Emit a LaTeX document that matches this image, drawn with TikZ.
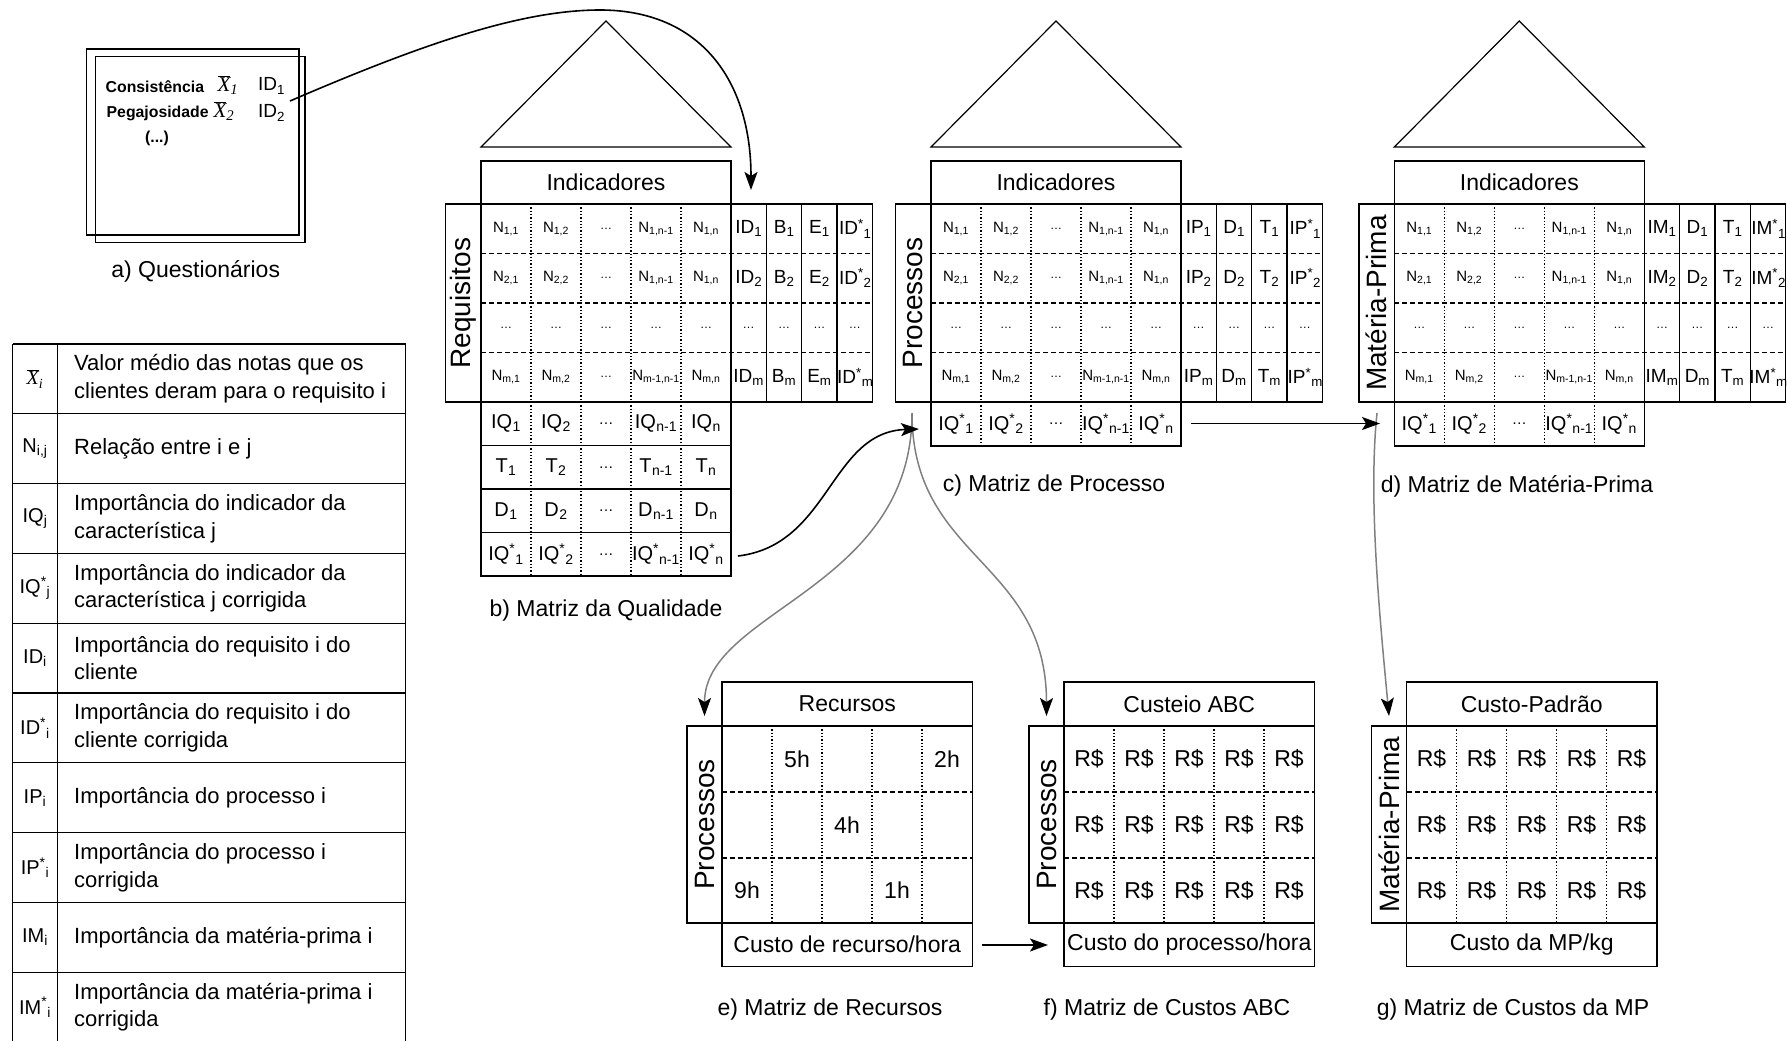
\documentclass[tikz,border=0pt]{standalone}
\usepackage{fontspec}
\setmainfont{Liberation Sans}
\newfontfamily\tms{Liberation Serif}
\usetikzlibrary{arrows.meta}
\definecolor{lgray}{RGB}{128,128,128}
\newcommand\lo[1]{\textsubscript{#1}}
\newcommand\hi[1]{\textsuperscript{#1}}
\newcommand\xb[1]{$\overline{\hbox{\tms\itshape X}}$\textsubscript{\tms\itshape #1}}

\tikzset{
 box/.style={line width=1.3pt},
 dotl/.style={line width=1.1pt, dash pattern=on 1.3pt off 2pt},
 dashl/.style={line width=1.3pt, dash pattern=on 5pt off 3pt},
 lbl/.style={font=\fontsize{23}{27}\selectfont, inner sep=0pt},
 side/.style={font=\fontsize{28}{32}\selectfont, rotate=90, inner sep=0pt},
 ncell/.style={font=\fontsize{15}{17}\selectfont, inner sep=0pt},
 dcell/.style={font=\fontsize{12}{14}\selectfont, inner sep=0pt},
 bcell/.style={font=\fontsize{20}{23}\selectfont, inner sep=0pt},
 rcell/.style={font=\fontsize{19}{22}\selectfont, inner sep=0pt},
 legsym/.style={font=\fontsize{20}{23}\selectfont, inner sep=0pt},
 legtxt/.style={font=\fontsize{22}{27.7}\selectfont, inner sep=0pt, anchor=west, align=left},
 qtxt/.style={font=\fontsize{15.8}{18}\selectfont\bfseries, inner sep=0pt},
 arrowtip/.style={-{Stealth[length=18pt,width=13pt,inset=4pt,color=black]}},
 conn/.style={line width=1.6pt, arrowtip},
 gconn/.style={line width=1.5pt, draw=lgray, arrowtip},
}

% QFD matrix: #1 prefix, #2 xshift, #3 side label, #4 #5 #6 right column letters, #7 bottom y
\newcommand\qfd[7]{%
\begin{scope}[xshift=#2pt]
 \draw[box] (0,161) rectangle (250,204);
 \node[lbl] (#1head) at (125,182.5) {Indicadores};
 \draw[box] (-35.3,204) rectangle (391.5,402);
 \node[side] (#1side) at (-17.6,303) {#3};
 \draw[box] (0,204) -- (0,#7) -- (250,#7) -- (250,204);
 \foreach \x in {285.4,320.8,356.1} \draw[box] (\x,204) -- (\x,402);
 \foreach \y in {253.5,303,352.5} \draw[dashl] (0,\y) -- (391.5,\y);
 \foreach \x in {50,100,150,200} \draw[dotl] (\x,204) -- (\x,#7);
 \foreach \r/\y/\a/\b/\d/\e in {1/228.7/{1,1}/{1,2}/{1,n-1}/{1,n}, 2/278.2/{2,1}/{2,2}/{1,n-1}/{1,n}, 4/377.2/{m,1}/{m,2}/{m-1,n-1}/{m,n}}{
   \node[ncell] (#1n\r a) at (25,\y) {N\lo{\a}};
   \node[ncell] (#1n\r b) at (75,\y) {N\lo{\b}};
   \node[dcell] (#1n\r c) at (125,\y) {\dots};
   \node[ncell] (#1n\r d) at (175,\y) {N\lo{\d}};
   \node[ncell] (#1n\r e) at (225,\y) {N\lo{\e}};
 }
 \foreach \c/\x in {a/25,b/75,c/125,d/175,e/225,f/267.7,g/303.1,h/338.4,i/373.8}
   \node[dcell] (#1n3\c) at (\x,327.7) {\dots};
 \foreach \r/\y/\k in {1/228.7/1, 2/278.2/2, 4/377.2/m}{
   \node[rcell] (#1r\r a) at (267.7,\y) {#4\lo{\k}};
   \node[rcell] (#1r\r b) at (303.1,\y) {#5\lo{\k}};
   \node[rcell] (#1r\r c) at (338.4,\y) {#6\lo{\k}};
   \node[rcell] (#1r\r d) at (374.3,\y) {#4\hi{*}\lo{\k}};
 }
\end{scope}}

% cost matrix: #1 prefix, #2 xshift, #3 header, #4 side, #5 footer
\newcommand\costm[5]{%
\begin{scope}[xshift=#2pt]
 \draw[box] (0,682) rectangle (250.5,726);
 \node[lbl] (#1head) at (125.25,704) {#3};
 \draw[box] (-35,726) rectangle (250.5,923);
 \draw[box] (0,726) -- (0,923);
 \node[side] (#1side) at (-17.5,824.5) {#4};
 \draw[box] (0,923) rectangle (250.5,966.5);
 \node[lbl] (#1foot) at (125.25,944.75) {#5};
 \foreach \x in {50,100,150,200} \draw[dotl] (\x,726) -- (\x,923);
 \foreach \y in {792,858} \draw[dashl] (0,\y) -- (250.5,\y);
\end{scope}}

\begin{document}
\begin{tikzpicture}[x=1pt,y=-1pt]
\useasboundingbox (0,0) rectangle (1787,1041);

% ---------- a) questionnaire
\draw[box] (86.7,49) rectangle (299,235);
\draw[box] (95.7,56.7) rectangle (305,242.3);
\node[qtxt, anchor=west] (cons) at (105.5,87) {Consistência};
\node[font=\fontsize{21}{24}\selectfont, inner sep=0pt] (x1) at (228,85) {\xb{1}};
\node[bcell, font=\fontsize{19}{22}\selectfont] (id1) at (271.5,86) {ID\lo{1}};
\node[qtxt, anchor=west] (pega) at (106.5,113) {Pegajosidade};
\node[font=\fontsize{21}{24}\selectfont, inner sep=0pt] (x2) at (224,111) {\xb{2}};
\node[bcell, font=\fontsize{19}{22}\selectfont] (id2) at (271.5,113) {ID\lo{2}};
\node[qtxt] (etc) at (157,138) {(...)};
\node[lbl] (capa) at (195.7,271) {a) Questionários};

% ---------- legend
\draw[box] (12.5,344) -- (405.5,344);
\foreach \y in {413.8,483.6,553.4,623.2,693,762.8,832.6,902.4,972.2}
  \draw[box] (12.5,\y) -- (405.5,\y);
\foreach \x in {12.5,57.5,405.5} \draw[box] (\x,344) -- (\x,1041);
\node[legsym] (s1) at (35,378.9) {\xb{i}};
\node[legtxt] (t1) at (74,378.9) {Valor médio das notas que os\\clientes deram para o requisito i};
\node[legsym] (s2) at (35,448.7) {N\lo{i,j}};
\node[legtxt] (t2) at (74,448.7) {Relação entre i e j};
\node[legsym] (s3) at (35,518.5) {IQ\lo{j}};
\node[legtxt] (t3) at (74,518.5) {Importância do indicador da\\característica j};
\node[legsym] (s4) at (35,588.3) {IQ\hi{*}\lo{j}};
\node[legtxt] (t4) at (74,588.3) {Importância do indicador da\\característica j corrigida};
\node[legsym] (s5) at (35,658.1) {ID\lo{i}};
\node[legtxt] (t5) at (74,658.1) {Importância do requisito i do\\cliente};
\node[legsym] (s6) at (35,727.9) {ID\hi{*}\lo{i}};
\node[legtxt] (t6) at (74,727.9) {Importância do requisito i do\\cliente corrigida};
\node[legsym] (s7) at (35,797.7) {IP\lo{i}};
\node[legtxt] (t7) at (74,797.7) {Importância do processo i};
\node[legsym] (s8) at (35,867.5) {IP\hi{*}\lo{i}};
\node[legtxt] (t8) at (74,867.5) {Importância do processo i\\corrigida};
\node[legsym] (s9) at (35,937.3) {IM\lo{i}};
\node[legtxt] (t9) at (74,937.3) {Importância da matéria-prima i};
\node[legsym] (s10) at (35,1007.1) {IM\hi{*}\lo{i}};
\node[legtxt] (t10) at (74,1007.1) {Importância da matéria-prima i\\corrigida};

% ---------- triangles
\draw[box, line width=1.2pt] (481,147) -- (606,21) -- (731,147) -- cycle;
\draw[box, line width=1.2pt] (931,147) -- (1056,21) -- (1181,147) -- cycle;
\draw[box, line width=1.2pt] (1394.3,147) -- (1519.3,21) -- (1644.3,147) -- cycle;

% ---------- b, c, d matrices
\qfd{b}{481}{Requisitos}{ID}{B}{E}{576}
\qfd{c}{931}{Processos}{IP}{D}{T}{446}
\qfd{d}{1394.3}{Matéria-Prima}{IM}{D}{T}{446}

\begin{scope}[xshift=481pt]
 \foreach \y in {445.5,489,532.5} \draw[box] (0,\y) -- (250,\y);
 \foreach \r/\y/\L/\s in {1/423.7/IQ/{}, 2/467.2/T/{}, 3/510.7/D/{}, 4/554.2/IQ/*}{
   \node[bcell] (bq\r a) at (25,\y) {\L\hi{\s}\lo{1}};
   \node[bcell] (bq\r b) at (75,\y) {\L\hi{\s}\lo{2}};
   \node[dcell, font=\fontsize{15}{17}\selectfont] (bq\r c) at (125,\y) {\dots};
   \node[bcell] (bq\r d) at (175,\y) {\L\hi{\s}\lo{n-1}};
   \node[bcell] (bq\r e) at (225,\y) {\L\hi{\s}\lo{n}};
 }
\end{scope}
\foreach \p/\L in {c/931, d/1394.3}{
 \begin{scope}[xshift=\L pt]
   \node[bcell] (\p q1a) at (25,424) {IQ\hi{*}\lo{1}};
   \node[bcell] (\p q1b) at (75,424) {IQ\hi{*}\lo{2}};
   \node[dcell, font=\fontsize{15}{17}\selectfont] (\p q1c) at (125,424) {\dots};
   \node[bcell] (\p q1d) at (175,424) {IQ\hi{*}\lo{n-1}};
   \node[bcell] (\p q1e) at (225,424) {IQ\hi{*}\lo{n}};
 \end{scope}
}
\node[lbl] (capb) at (606,611) {b) Matriz da Qualidade};
\node[lbl] (capc) at (1054,486) {c) Matriz de Processo};
\node[lbl] (capd) at (1517,486) {d) Matriz de Matéria-Prima};

% ---------- e, f, g matrices
\costm{e}{722}{Recursos}{Processos}{Custo de recurso/hora}
\costm{f}{1064}{Custeio ABC}{Processos}{Custo do processo/hora}
\costm{g}{1406.5}{Custo-Padrão}{Matéria-Prima}{Custo da MP/kg}
\node[lbl] (e5h) at (797,759) {5h};
\node[lbl] (e2h) at (947,759) {2h};
\node[lbl] (e4h) at (847,825) {4h};
\node[lbl] (e9h) at (747,890.5) {9h};
\node[lbl] (e1h) at (897,890.5) {1h};
\foreach \p/\L in {f/1064, g/1406.5}{
 \begin{scope}[xshift=\L pt]
  \foreach \r/\y in {1/759,2/825,3/890.5}
   \foreach \c/\x in {a/25,b/75,c/125,d/175,e/225}
    \node[lbl] (\p\r\c) at (\x,\y) {R\$};
 \end{scope}
}
\node[lbl] (cape) at (830,1010) {e) Matriz de Recursos};
\node[lbl] (capf) at (1167,1010) {f) Matriz de Custos ABC};
\node[lbl] (capg) at (1513,1010) {g) Matriz de Custos da MP};

% ---------- connectors
\coordinate (qa) at (290,101);
\coordinate (btip) at (751,190);
\coordinate (bout) at (738,556);
\coordinate (cin) at (919,429);
\coordinate (cout) at (1191,423.5);
\coordinate (din) at (1380,423.5);
\coordinate (eout) at (982,945);
\coordinate (fin) at (1048,945);
\coordinate (hubc) at (912,413);
\coordinate (hubd) at (1377,413);
\coordinate (etip) at (704.5,716);
\coordinate (ftip) at (1046.5,716);
\coordinate (gtip) at (1389,716);

\draw[gconn] (hubc) .. controls (912,590) and (704.5,610) .. (etip);
\draw[gconn] (hubc) .. controls (912,560) and (1046.5,560) .. (ftip);
\draw[gconn] (hubd) .. controls (1368,500) and (1380,620) .. (gtip);

\draw[conn] (qa) .. controls (420,45) and (520,10) .. (600,10) .. controls (700,10) and (751,80) .. (btip);
\draw[conn] (bout) .. controls (830,545) and (830,432) .. (cin);
\draw[conn] (cout) -- (din);
\draw[conn] (eout) -- (fin);
\end{tikzpicture}
\end{document}
